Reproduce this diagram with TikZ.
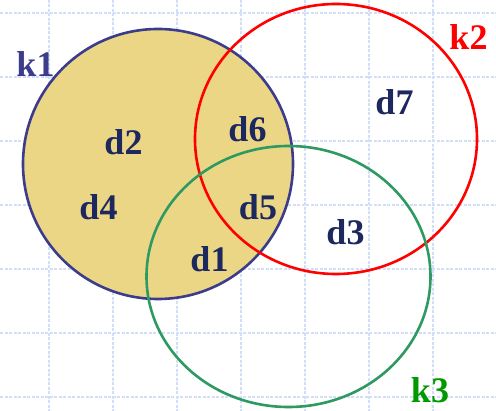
\documentclass[tikz,border=0pt]{standalone}
\usepackage{fontspec}
\setmainfont{Liberation Serif}
\definecolor{gridc}{HTML}{D3DEF8}
\definecolor{kone}{HTML}{3C3C8C}
\definecolor{fillk}{HTML}{EBD686}
\definecolor{ktwo}{HTML}{FF0000}
\definecolor{kthree}{HTML}{2E9A62}
\definecolor{kthreetxt}{HTML}{009900}
\definecolor{dtxt}{HTML}{1C285E}
\begin{document}
\begin{tikzpicture}[x=1pt,y=-1pt,
  gridline/.style={draw=gridc,line width=1.8pt,dash pattern=on 3pt off 1.5pt},
  setring/.style={line width=2.6pt},
  lbl/.style={font=\fontsize{36}{40}\selectfont\bfseries,anchor=base,inner sep=0pt},
  dlbl/.style={lbl,text=dtxt}]
\useasboundingbox (0,0) rectangle (496,411);
\fill[white] (0,0) rectangle (496,411);
% grid
\foreach \y in {13,77,141,205,269,333,397}
  \draw[gridline] (0,\y) -- (496,\y);
\foreach \x in {49,113,177,241,305,369,433}
  \draw[gridline] (\x,0) -- (\x,411);
% sets
\fill[fillk] (158,164) ellipse [x radius=135,y radius=135];
\draw[setring,draw=kone] (158,164) ellipse [x radius=135,y radius=135];
\draw[setring,draw=ktwo] (336,139) ellipse [x radius=141,y radius=135];
\draw[setring,draw=kthree] (288.5,276.5) ellipse [x radius=142,y radius=130.5];
% labels
\node[lbl,text=kone] (k1) at (35.5,77) {k1};
\node[lbl,text=ktwo] (k2) at (468.5,50) {k2};
\node[lbl,text=kthreetxt] (k3) at (430,403) {k3};
\node[dlbl] (d2) at (123.5,155) {d2};
\node[dlbl] (d6) at (247.5,142) {d6};
\node[dlbl] (d7) at (394.5,115) {d7};
\node[dlbl] (d4) at (98.5,220) {d4};
\node[dlbl] (d5) at (258,220) {d5};
\node[dlbl] (d1) at (209.5,272) {d1};
\node[dlbl] (d3) at (345.5,245) {d3};
\end{tikzpicture}
\end{document}
